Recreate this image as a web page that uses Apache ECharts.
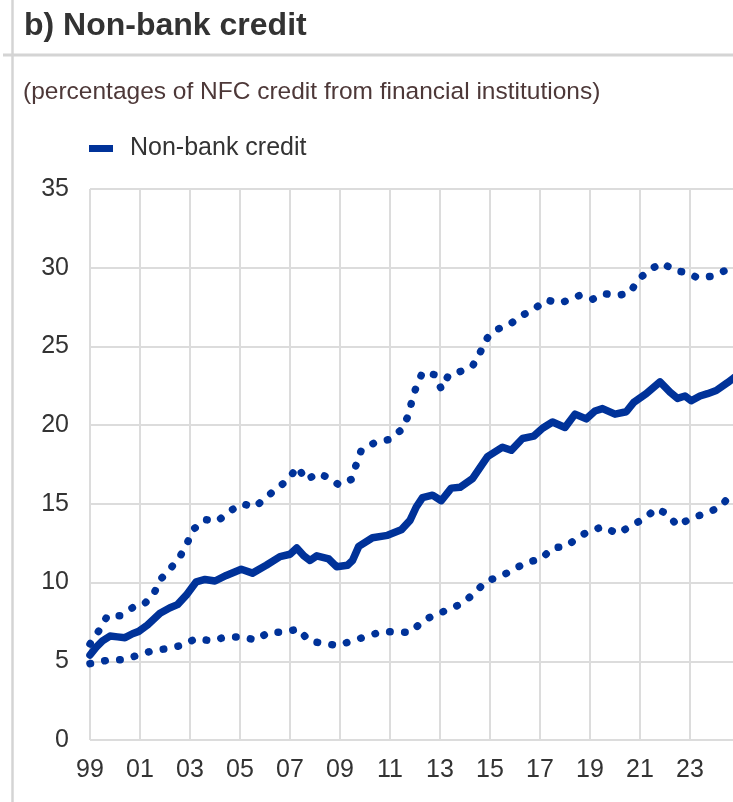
<!DOCTYPE html>
<html>
<head>
<meta charset="utf-8">
<title>Non-bank credit</title>
<script src="https://cdn.jsdelivr.net/npm/echarts@6/dist/echarts.min.js"></script>
<style>
  html, body { margin: 0; padding: 0; background: #ffffff; }
  #chart { width: 733px; height: 802px; }
</style>
</head>
<body>
<div id="chart"></div>
<script>
// Non-bank credit share of NFC credit from financial institutions (%), with range bounds
const mainDates = [1999.0, 1999.25, 1999.5, 1999.8, 2000.1, 2000.4, 2000.7, 2000.95, 2001.3, 2001.8,
  2002.2, 2002.5, 2002.85, 2003.25, 2003.6, 2004.0, 2004.45, 2005.05, 2005.5, 2006.05,
  2006.6, 2007.0, 2007.27, 2007.55, 2007.8, 2008.07, 2008.55, 2008.87, 2009.3, 2009.5,
  2009.75, 2010.3, 2010.9, 2011.45, 2011.8, 2012.05, 2012.3, 2012.7, 2013.05, 2013.45,
  2013.8, 2014.3, 2014.6, 2014.9, 2015.5, 2015.85, 2016.3, 2016.75, 2017.1, 2017.5,
  2018.0, 2018.4, 2018.85, 2019.2, 2019.5, 2020.0, 2020.45, 2020.75, 2021.25, 2021.8,
  2022.2, 2022.5, 2022.8, 2023.05, 2023.4, 2023.7, 2024.05, 2024.5, 2024.75];
const mainValues = [5.4, 5.9, 6.3, 6.6, 6.55, 6.5, 6.75, 6.9, 7.3, 8.05,
  8.4, 8.6, 9.2, 10.05, 10.2, 10.1, 10.45, 10.85, 10.6, 11.1,
  11.65, 11.8, 12.2, 11.7, 11.4, 11.7, 11.5, 11.0, 11.1, 11.4,
  12.3, 12.85, 13.0, 13.35, 13.95, 14.8, 15.4, 15.55, 15.2, 16.0,
  16.05, 16.6, 17.3, 18.0, 18.6, 18.4, 19.15, 19.3, 19.8, 20.2,
  19.85, 20.7, 20.4, 20.9, 21.05, 20.7, 20.85, 21.45, 22.0, 22.75,
  22.1, 21.7, 21.85, 21.55, 21.85, 22.0, 22.2, 22.7, 23.0];

const upperDates = [1999.0, 1999.4, 1999.7, 2000.2, 2000.7, 2001.15, 2001.55, 2001.85, 2002.25, 2002.6,
  2002.9, 2003.15, 2003.6, 2004.1, 2004.6, 2005.1, 2005.6, 2006.0, 2006.45, 2006.9,
  2007.3, 2007.65, 2008.1, 2008.65, 2008.95, 2009.45, 2009.65, 2009.85, 2010.4, 2011.0,
  2011.45, 2011.7, 2011.87, 2012.05, 2012.3, 2012.8, 2013.05, 2013.35, 2013.8, 2014.3,
  2014.6, 2014.9, 2015.3, 2015.75, 2016.25, 2016.75, 2017.25, 2017.8, 2018.15, 2018.6,
  2019.1, 2019.55, 2020.15, 2020.6, 2020.9, 2021.4, 2021.9, 2022.4, 2022.9, 2023.3,
  2023.85, 2024.45, 2024.75];
const upperValues = [6.1, 7.05, 7.9, 7.9, 8.4, 8.6, 9.3, 10.25, 10.95, 11.65,
  12.55, 13.4, 14.0, 13.9, 14.55, 15.0, 14.8, 15.35, 15.95, 16.5,
  17.35, 16.5, 16.95, 16.6, 16.2, 16.55, 17.5, 18.4, 18.9, 19.1,
  19.7, 20.5, 21.5, 22.45, 23.35, 23.2, 22.3, 23.2, 23.4, 23.75,
  24.6, 25.55, 26.1, 26.35, 26.95, 27.35, 27.95, 27.75, 27.95, 28.25,
  28.0, 28.35, 28.25, 28.4, 29.2, 29.9, 30.3, 29.8, 29.7, 29.35,
  29.45, 29.85, 29.9];

const lowerDates = [1999.0, 1999.65, 2000.3, 2000.85, 2001.45, 2002.05, 2002.65, 2003.25, 2003.85, 2004.45,
  2005.05, 2005.65, 2006.15, 2006.75, 2007.35, 2007.75, 2008.3, 2008.9, 2009.5, 2010.1,
  2010.7, 2011.3, 2011.85, 2012.3, 2012.85, 2013.4, 2013.9, 2014.4, 2014.85, 2015.45,
  2015.95, 2016.5, 2017.05, 2017.5, 2018.05, 2018.55, 2019.0, 2019.55, 2020.1, 2020.65,
  2021.2, 2021.65, 2022.1, 2022.5, 2023.05, 2023.65, 2024.2, 2024.6, 2024.75];
const lowerValues = [4.85, 5.05, 5.1, 5.35, 5.65, 5.8, 6.0, 6.45, 6.3, 6.55,
  6.55, 6.35, 6.85, 6.85, 7.05, 6.3, 6.15, 6.0, 6.3, 6.6,
  6.9, 6.85, 6.85, 7.55, 8.0, 8.3, 8.7, 9.35, 10.1, 10.4,
  10.85, 11.3, 11.5, 12.2, 12.3, 12.9, 13.3, 13.55, 13.1, 13.6,
  14.1, 14.7, 14.35, 13.6, 14.1, 14.4, 14.8, 15.5, 15.7];

const xTickYears = [1999, 2001, 2003, 2005, 2007, 2009, 2011, 2013, 2015, 2017, 2019, 2021, 2023];
const xTickLabels = ['99', '01', '03', '05', '07', '09', '11', '13', '15', '17', '19', '21', '23'];
const yTicks = [0, 5, 10, 15, 20, 25, 30, 35];

const BLUE = '#003299';
const GRID_GREY = '#dcdcdc';
const FONT = '"Liberation Sans", Arial, sans-serif';

function pairs(xs, ys) {
  return xs.map((x, i) => [x, ys[i]]);
}

const chart = echarts.init(document.getElementById('chart'), null, { renderer: 'canvas' });

// round dots along the path for the range bounds
const dottedStyle = {
  color: BLUE,
  width: 7.5,
  type: [0.5, 14.5],
  cap: 'round',
  join: 'round'
};

chart.setOption({
  animation: false,
  backgroundColor: '#ffffff',
  textStyle: { fontFamily: FONT },
  title: [
    {
      text: 'b) Non-bank credit',
      left: 19,
      top: 5,
      textStyle: { fontFamily: FONT, fontSize: 32, fontWeight: 'bold', color: '#333333' }
    },
    {
      text: '(percentages of NFC credit from financial institutions)',
      left: 18,
      top: 75,
      textStyle: { fontFamily: FONT, fontSize: 24.5, fontWeight: 'normal', color: '#4d3838' }
    }
  ],
  legend: {
    left: 84,
    top: 131,
    itemWidth: 24,
    itemHeight: 7,
    itemGap: 20,
    icon: 'rect',
    data: [{ name: 'Non-bank credit', icon: 'rect' }],
    textStyle: { fontFamily: FONT, fontSize: 25, color: '#333333', padding: [0, 0, 0, 12] }
  },
  graphic: [
    {
      type: 'line',
      shape: { x1: 12.5, y1: 0, x2: 12.5, y2: 802 },
      style: { stroke: '#d4d4d4', lineWidth: 2.5 },
      silent: true
    },
    {
      type: 'line',
      shape: { x1: 3, y1: 55, x2: 733, y2: 55 },
      style: { stroke: '#d4d4d4', lineWidth: 3 },
      silent: true
    }
  ],
  grid: {
    left: 90,
    top: 189,
    right: 0,
    height: 551,
    containLabel: false
  },
  xAxis: {
    type: 'value',
    min: 1999,
    max: 2024.72,
    interval: 2,
    axisLine: { show: false },
    axisTick: { show: false },
    splitLine: { show: true, showMaxLine: false, lineStyle: { color: GRID_GREY, width: 2 } },
    axisLabel: {
      margin: 18,
      fontFamily: FONT,
      fontSize: 25,
      color: '#333333',
      showMaxLabel: false,
      formatter: function (v) {
        const i = xTickYears.indexOf(Math.round(v));
        return i >= 0 && Math.abs(v - xTickYears[i]) < 1e-6 ? xTickLabels[i] : '';
      }
    }
  },
  yAxis: {
    type: 'value',
    min: yTicks[0],
    max: yTicks[yTicks.length - 1],
    interval: 5,
    axisLine: { show: false },
    axisTick: { show: false },
    splitLine: { show: true, lineStyle: { color: GRID_GREY, width: 2 } },
    axisLabel: {
      margin: 21,
      fontFamily: FONT,
      fontSize: 25,
      color: '#333333'
    }
  },
  series: [
    {
      name: 'upper bound',
      type: 'line',
      data: pairs(upperDates, upperValues),
      showSymbol: false,
      lineStyle: dottedStyle,
      z: 2
    },
    {
      name: 'lower bound',
      type: 'line',
      data: pairs(lowerDates, lowerValues),
      showSymbol: false,
      lineStyle: dottedStyle,
      z: 2
    },
    {
      name: 'Non-bank credit',
      type: 'line',
      data: pairs(mainDates, mainValues),
      showSymbol: false,
      itemStyle: { color: BLUE },
      lineStyle: { color: BLUE, width: 7.5, join: 'round', cap: 'round' },
      z: 3
    }
  ]
});
</script>
</body>
</html>
